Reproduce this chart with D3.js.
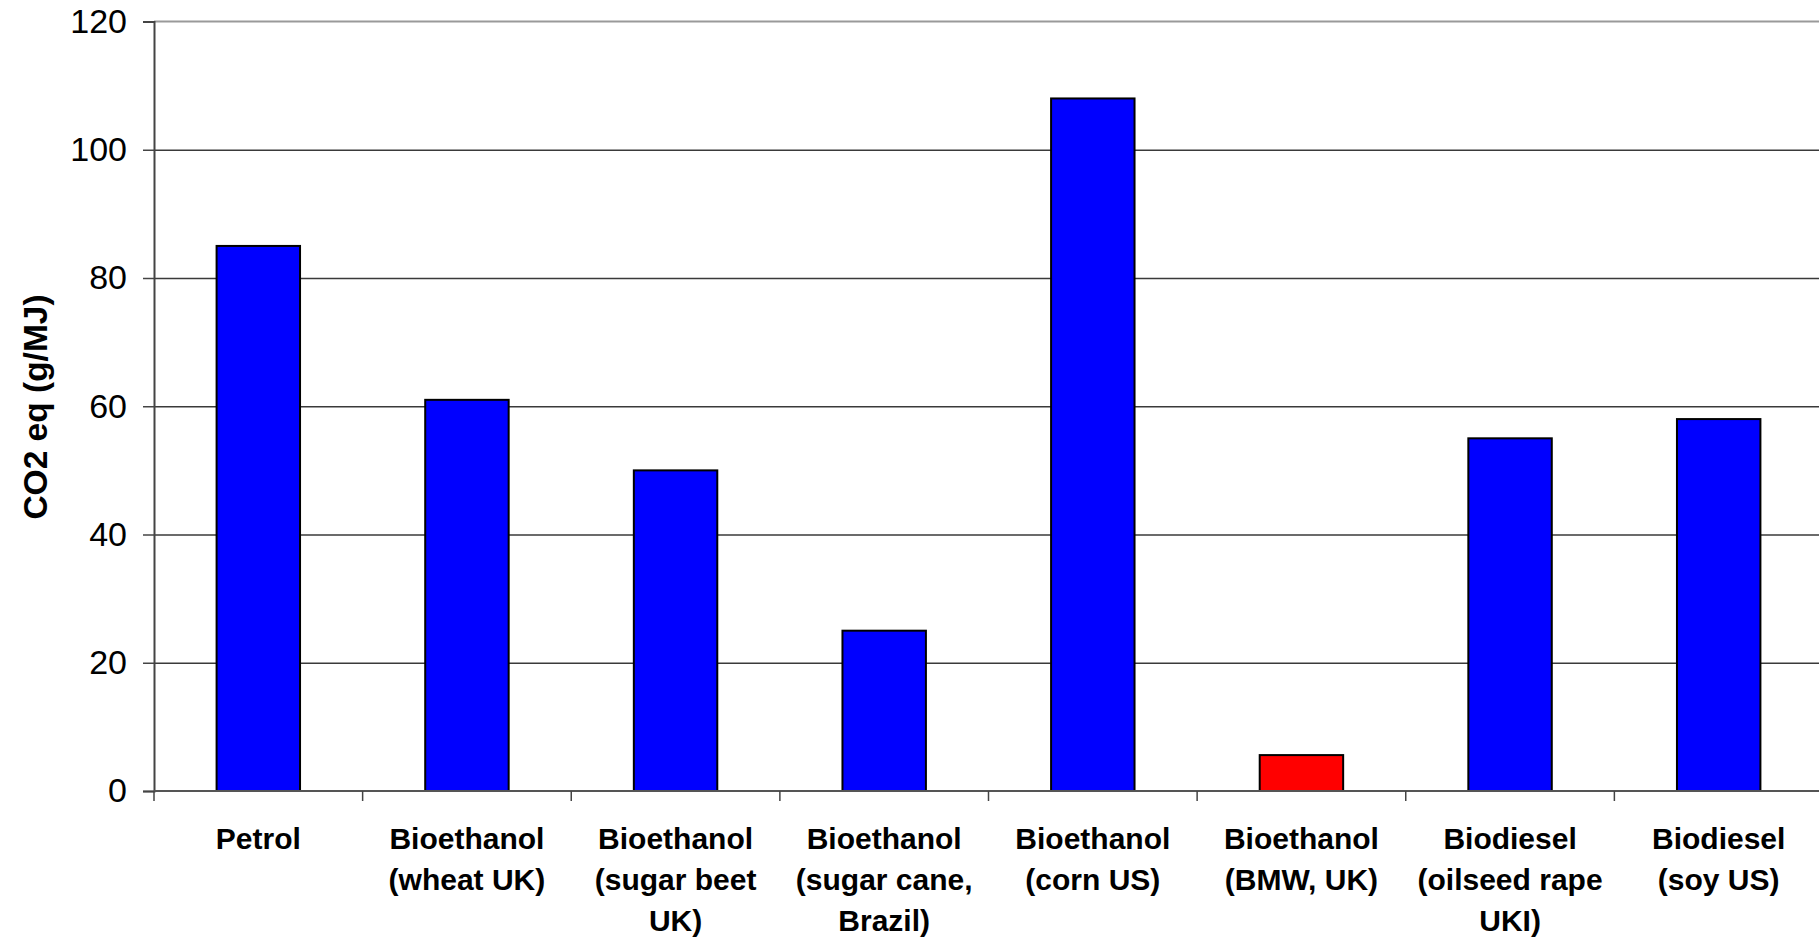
<!DOCTYPE html>
<html>
<head>
<meta charset="utf-8">
<script src="https://cdn.jsdelivr.net/npm/d3@7"></script>
<style>
  html, body { margin: 0; padding: 0; background: #ffffff; overflow: hidden; }
  svg { display: block; font-family: "Liberation Sans", Arial, sans-serif; }
</style>
</head>
<body>
<svg id="chart" width="1819" height="938"></svg>
<script>
// Fuel pathways and their greenhouse-gas intensity (g CO2 eq per MJ)
const categories = [
  "Petrol",
  "Bioethanol (wheat UK)",
  "Bioethanol (sugar beet UK)",
  "Bioethanol (sugar cane, Brazil)",
  "Bioethanol (corn US)",
  "Bioethanol (BMW, UK)",
  "Biodiesel (oilseed rape UKI)",
  "Biodiesel (soy US)"
];
const labelLines = [
  ["Petrol"],
  ["Bioethanol", "(wheat UK)"],
  ["Bioethanol", "(sugar beet", "UK)"],
  ["Bioethanol", "(sugar cane,", "Brazil)"],
  ["Bioethanol", "(corn US)"],
  ["Bioethanol", "(BMW, UK)"],
  ["Biodiesel", "(oilseed rape", "UKI)"],
  ["Biodiesel", "(soy US)"]
];
const values = [85, 61, 50, 25, 108, 5.6, 55, 58];
const yTicks = [0, 20, 40, 60, 80, 100, 120];
const yTitle = "CO2 eq (g/MJ)";
const highlighted = "Bioethanol (BMW, UK)";

const svg = d3.select("#chart");
// the plot area runs slightly past the right edge of the canvas
const plot = { left: 154, right: 1823, top: 21.5, bottom: 791 };

const x = d3.scaleBand()
  .domain(categories)
  .range([plot.left, plot.right])
  .paddingInner(0.6)
  .paddingOuter(0.3);

const y = d3.scaleLinear()
  .domain([0, 120])
  .range([plot.bottom, plot.top]);

// horizontal gridlines
svg.append("g")
  .selectAll("line")
  .data(yTicks.filter(d => d > 0 && d < 120))
  .join("line")
  .attr("x1", plot.left)
  .attr("x2", plot.right)
  .attr("y1", d => y(d) + 0.5)
  .attr("y2", d => y(d) + 0.5)
  .attr("stroke", "#3a3a3a")
  .attr("stroke-width", 1.3);

// top border of the plot area
svg.append("line")
  .attr("x1", plot.left).attr("x2", plot.right)
  .attr("y1", y(120)).attr("y2", y(120))
  .attr("stroke", "#9a9a9a")
  .attr("stroke-width", 2);

// bars
svg.append("g")
  .selectAll("rect")
  .data(categories)
  .join("rect")
  .attr("x", d => x(d))
  .attr("width", x.bandwidth())
  .attr("y", (d, i) => y(values[i]))
  .attr("height", (d, i) => y(0) - y(values[i]))
  .attr("fill", d => d === highlighted ? "#ff0000" : "#0000ff")
  .attr("stroke", "#000000")
  .attr("stroke-width", 2);

// y axis
const yAxis = svg.append("g")
  .attr("transform", `translate(${plot.left},0)`)
  .call(d3.axisLeft(y).tickValues(yTicks).tickSize(11).tickPadding(16));
yAxis.select(".domain").attr("stroke", "#444444").attr("stroke-width", 2);
yAxis.selectAll(".tick line").attr("stroke", "#444444").attr("stroke-width", 1.5);
yAxis.selectAll(".tick text")
  .attr("fill", "#000000")
  .style("font-family", "'Liberation Sans', Arial, sans-serif")
  .style("font-size", "34px");

// x axis: baseline plus tick marks at category boundaries
const step = x.step();
const boundaries = d3.range(categories.length + 1).map(i => plot.left + i * step);
svg.append("line")
  .attr("x1", plot.left).attr("x2", plot.right)
  .attr("y1", y(0)).attr("y2", y(0))
  .attr("stroke", "#555555")
  .attr("stroke-width", 2);
svg.append("g")
  .selectAll("line")
  .data(boundaries)
  .join("line")
  .attr("x1", d => d).attr("x2", d => d)
  .attr("y1", y(0)).attr("y2", y(0) + 10)
  .attr("stroke", "#444444")
  .attr("stroke-width", 1.5);

// category labels
const labels = svg.append("g")
  .selectAll("text")
  .data(categories)
  .join("text")
  .attr("text-anchor", "middle")
  .attr("font-weight", "bold")
  .attr("font-size", 30)
  .attr("fill", "#000000");
labels.each(function(d, i) {
  const cx = x(d) + x.bandwidth() / 2;
  d3.select(this).selectAll("tspan")
    .data(labelLines[i])
    .join("tspan")
    .attr("x", cx)
    .attr("y", (t, j) => 849 + j * 41)
    .text(t => t);
});

// y axis title
svg.append("text")
  .attr("transform", "translate(47,407) rotate(-90)")
  .attr("text-anchor", "middle")
  .attr("font-weight", "bold")
  .attr("font-size", 33.5)
  .attr("fill", "#000000")
  .text(yTitle);
</script>
</body>
</html>
